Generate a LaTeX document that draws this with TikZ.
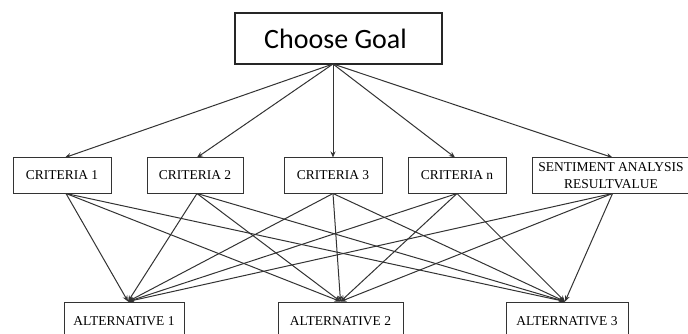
\documentclass[tikz,border=0pt]{standalone}
\usepackage{fontspec}
\setmainfont{Liberation Serif}
\newfontfamily\goalfont{Carlito}
\usetikzlibrary{arrows.meta}
\begin{document}
\begin{tikzpicture}[x=1pt,y=-1pt,
  box/.style={draw=black!80,line width=1pt,rectangle,inner sep=0pt,align=center,
    font=\fontsize{13.5}{16.5}\selectfont,minimum height=35pt},
  goalbox/.style={draw=black!85,line width=1.1pt,rectangle,inner sep=0pt,
    font=\goalfont\fontsize{28}{30}\selectfont,minimum width=207pt,minimum height=51pt},
  conn/.style={draw=black!80,line width=1pt,-{Stealth[length=6pt,width=5pt]}}]
\useasboundingbox (0,0) rectangle (688,334);
\fill[white] (0,0) rectangle (688,334);
% goal
\node[goalbox] (goal) at (338.5,38.5) {\hspace*{-6pt}Choose Goal};
\coordinate (g) at (333,64);
% criteria
\node[box,minimum width=98pt] (c1) at (62,175.5) {CRITERIA 1};
\node[box,minimum width=96pt] (c2) at (195,175.5) {CRITERIA 2};
\node[box,minimum width=98pt] (c3) at (333,175.5) {CRITERIA 3};
\node[box,minimum width=98pt] (cn) at (457,175.5) {CRITERIA n};
\node[box,minimum width=158pt] (cs) at (611,175.5) {SENTIMENT ANALYSIS\\RESULTVALUE};
% alternatives
\node[box,minimum width=120pt,minimum height=38pt] (a1) at (124,321) {ALTERNATIVE 1};
\node[box,minimum width=125pt,minimum height=38pt] (a2) at (340.5,321) {ALTERNATIVE 2};
\node[box,minimum width=122pt,minimum height=38pt] (a3) at (567,321) {ALTERNATIVE 3};
% goal to criteria
\foreach \c/\dx in {c1/3,c2/2,c3/0,cn/-2,cs/1.5}
  \draw[conn] (g) -- ([xshift=\dx pt]\c.north);
% criteria to alternatives
\foreach \c/\sx in {c1/4,c2/2,c3/0,cn/0,cs/1.5}
  \foreach \a/\ax in {a1/4,a2/0,a3/-2}
    \draw[conn] ([xshift=\sx pt]\c.south) -- ([xshift=\ax pt]\a.north);
\end{tikzpicture}
\end{document}
